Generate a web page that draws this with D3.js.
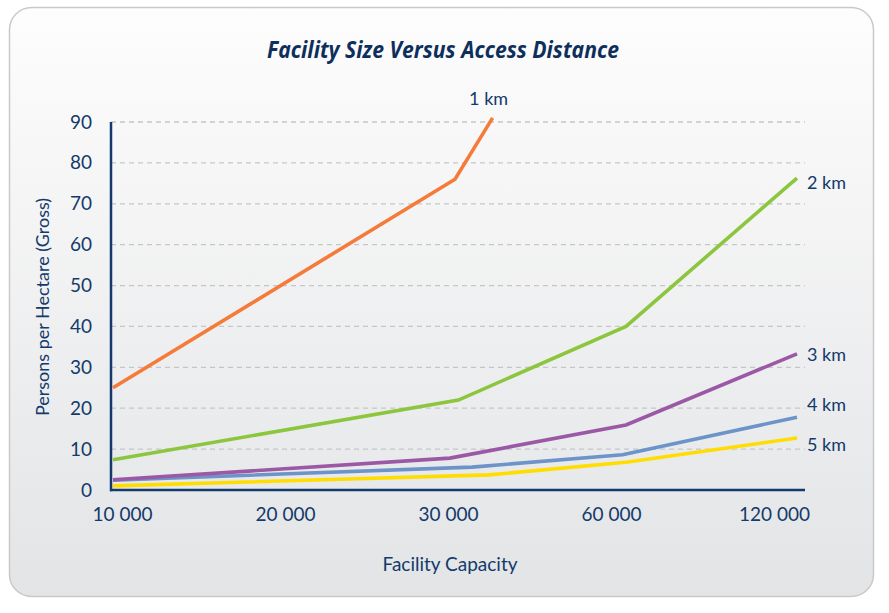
<!DOCTYPE html>
<html>
<head>
<meta charset="utf-8">
<script src="https://cdn.jsdelivr.net/npm/d3@7"></script>
<style>
  body { margin: 0; background: #fff; }
  text { font-family: Lato, "Open Sans", sans-serif; }
</style>
</head>
<body>
<div id="canvas"></div>
<script>
// categories on the x axis
const capacities = ["10 000", "20 000", "30 000", "60 000", "120 000"];
const yTicks = [0, 10, 20, 30, 40, 50, 60, 70, 80, 90];

// each point: [category index, persons per hectare]
const km1 = [[0, 25], [2, 76], [2.22, 91]];
const km2 = [[0, 7.4], [2.02, 22], [3, 40], [4, 76.3]];
const km3 = [[0, 2.5], [1.97, 7.8], [3, 15.9], [4, 33.3]];
const km4 = [[0, 2.4], [2.1, 5.6], [2.98, 8.6], [4, 17.8]];
const km5 = [[0, 1], [2.2, 3.7], [3, 6.8], [4, 12.7]];

const seriesNames = ["1 km", "2 km", "3 km", "4 km", "5 km"];
const colors = ["#f47b3a", "#8cc63f", "#9a58a5", "#6d94c8", "#ffdd00"];
const seriesData = [km1, km2, km3, km4, km5];

const width = 889, height = 613;
const navy = "#133a6b";

const svg = d3.select("#canvas").append("svg")
    .attr("width", width)
    .attr("height", height);

// card background
const defs = svg.append("defs");
const grad = defs.append("linearGradient")
    .attr("id", "bg").attr("x1", 0).attr("y1", 0).attr("x2", 0).attr("y2", 1);
grad.append("stop").attr("offset", "0%").attr("stop-color", "#fdfdfd");
grad.append("stop").attr("offset", "100%").attr("stop-color", "#e3e4e6");

svg.append("rect")
    .attr("x", 9.5).attr("y", 7.5)
    .attr("width", 864).attr("height", 589)
    .attr("rx", 22).attr("ry", 22)
    .attr("fill", "url(#bg)")
    .attr("stroke", "#c9c9c9")
    .attr("stroke-width", 1.5);

// scales
const x = d3.scaleLinear().domain([0, capacities.length - 1]).range([113, 797]);
const xLab = d3.scalePoint().domain(capacities).range([122, 774]);
const y = d3.scaleLinear().domain([0, 90]).range([490, 122]);

// grid
svg.append("g")
    .selectAll("line")
    .data(yTicks.filter(d => d > 0))
    .enter().append("line")
    .attr("x1", 111).attr("x2", 805)
    .attr("y1", d => y(d)).attr("y2", d => y(d))
    .attr("stroke", "#c4c6c9")
    .attr("stroke-width", 1.3)
    .attr("stroke-dasharray", "5,4");

// y axis
const yAxis = svg.append("g")
    .attr("transform", "translate(111,0)")
    .call(d3.axisLeft(y).tickValues(yTicks).tickSize(0).tickPadding(19));
yAxis.select(".domain").remove();
yAxis.selectAll("text")
    .attr("fill", navy)
    .style("font-size", "19px")
    .style("font-family", "Lato, sans-serif");

// x axis labels
const xAxis = svg.append("g")
    .attr("transform", "translate(0,490)")
    .call(d3.axisBottom(xLab).tickSize(0).tickPadding(18));
xAxis.select(".domain").remove();
xAxis.selectAll("text")
    .attr("fill", navy)
    .style("font-size", "19px")
    .style("font-family", "Lato, sans-serif");

// axis lines
svg.append("line")
    .attr("x1", 111).attr("x2", 111)
    .attr("y1", y(90)).attr("y2", y(0) + 1.2)
    .attr("stroke", navy).attr("stroke-width", 2.5);
svg.append("line")
    .attr("x1", 110).attr("x2", 805)
    .attr("y1", y(0)).attr("y2", y(0))
    .attr("stroke", navy).attr("stroke-width", 2.5);

// lines
const line = d3.line()
    .x(d => x(d[0]))
    .y(d => y(d[1]));

svg.append("g")
    .selectAll("path")
    .data(seriesData.slice().reverse())
    .enter().append("path")
    .attr("d", line)
    .attr("fill", "none")
    .attr("stroke", (d, i) => colors[colors.length - 1 - i])
    .attr("stroke-width", 3.6);

// line labels
const labelOffsets = [[-4, -13], [10, 11], [10, 7], [10, -6], [10, 13]];
seriesData.forEach((s, i) => {
    const last = s[s.length - 1];
    svg.append("text")
        .attr("x", x(last[0]) + labelOffsets[i][0])
        .attr("y", y(last[1]) + labelOffsets[i][1])
        .attr("text-anchor", i === 0 ? "middle" : "start")
        .attr("fill", navy)
        .style("font-size", "18px")
        .text(seriesNames[i]);
});

// titles
svg.append("text")
    .attr("x", 443).attr("y", 58)
    .attr("text-anchor", "middle")
    .attr("textLength", 352)
    .attr("lengthAdjust", "spacingAndGlyphs")
    .attr("fill", "#0e2f5c")
    .style("font-family", "'Open Sans', sans-serif")
    .style("font-size", "23px")
    .style("font-weight", "bold")
    .style("font-style", "italic")
    .text("Facility Size Versus Access Distance");

svg.append("text")
    .attr("transform", "translate(49,307) rotate(-90)")
    .attr("text-anchor", "middle")
    .attr("fill", navy)
    .style("font-size", "18px")
    .text("Persons per Hectare (Gross)");

svg.append("text")
    .attr("x", 450).attr("y", 571)
    .attr("text-anchor", "middle")
    .attr("fill", navy)
    .style("font-size", "19px")
    .text("Facility Capacity");
</script>
</body>
</html>
